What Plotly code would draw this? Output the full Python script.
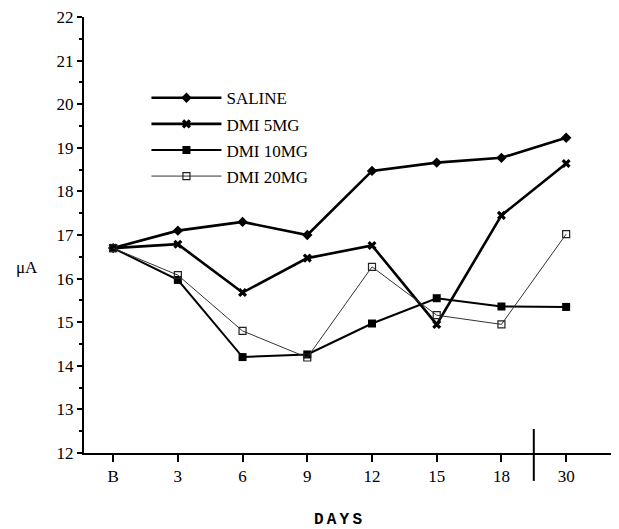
import plotly.graph_objects as go

days = ["B", "3", "6", "9", "12", "15", "18", "30"]
saline = [16.7, 17.1, 17.3, 17.0, 18.47, 18.66, 18.77, 19.23]
dmi5 = [16.7, 16.79, 15.68, 16.47, 16.76, 14.95, 17.45, 18.64]
dmi10 = [16.7, 15.97, 14.2, 14.26, 14.97, 15.55, 15.36, 15.35]
dmi20 = [16.7, 16.08, 14.8, 14.19, 16.27, 15.16, 14.95, 17.02]
yticks = list(range(12, 23))

xpos = list(range(len(days)))
serif = "Liberation Serif"

fig = go.Figure()
series = [
    ("SALINE", saline, dict(symbol="diamond", size=8, color="black"), dict(color="black", width=2.6)),
    ("DMI 5MG", dmi5, dict(symbol="x", size=8, color="black"), dict(color="black", width=2.6)),
    ("DMI 10MG", dmi10, dict(symbol="square", size=8, color="black"), dict(color="black", width=2)),
    ("DMI 20MG", dmi20, dict(symbol="square-open", size=7, color="#222", line=dict(width=1.2)), dict(color="#333", width=1)),
]
for name, vals, marker, line in series:
    fig.add_trace(go.Scatter(x=xpos, y=vals, mode="lines+markers", name=name, legendgroup=name,
                             marker=marker, line=line, cliponaxis=False))

fig.add_shape(type="line", xref="x", yref="paper", x0=6.5, x1=6.5, y0=0.055, y1=-0.064,
              line=dict(color="black", width=2))

fig.add_annotation(text="μA", xref="paper", yref="y", x=-0.105, y=16.25,
                   xanchor="center", yanchor="middle", showarrow=False,
                   font=dict(family=serif, size=17, color="black"))

fig.add_annotation(text="<b>D\u2009A\u2009Y\u2009S</b>", xref="x", yref="paper", x=3.48, y=-0.154,
                   xanchor="center", yanchor="middle", showarrow=False,
                   font=dict(family="Liberation Mono", size=16, color="black"))

fig.update_layout(
    width=619, height=529,
    margin=dict(l=76, r=0, t=9, b=84),
    paper_bgcolor="white", plot_bgcolor="white",
    font=dict(family=serif, size=17, color="black"),
    showlegend=True,
    legend=dict(x=0.115, y=0.855, xanchor="left", yanchor="top",
                font=dict(family=serif, size=17), bgcolor="rgba(0,0,0,0)",
                tracegroupgap=1, itemwidth=70),
    xaxis=dict(range=[-0.45, 7.94], tickvals=xpos, ticktext=days,
               showgrid=False, zeroline=False, showline=True, linecolor="black", linewidth=2,
               ticks="outside", ticklen=7, tickwidth=2, tickcolor="black"),
    yaxis=dict(range=[12, 22], tickvals=yticks, ticklabeloverflow="allow",
               showgrid=False, zeroline=False, showline=True, linecolor="black", linewidth=2,
               ticks="outside", ticklen=5, tickwidth=2, tickcolor="black",
               minor=dict(dtick=0.5, ticks="outside", ticklen=3, tickwidth=1.5, tickcolor="black")),
)
fig.write_html("out.html")
